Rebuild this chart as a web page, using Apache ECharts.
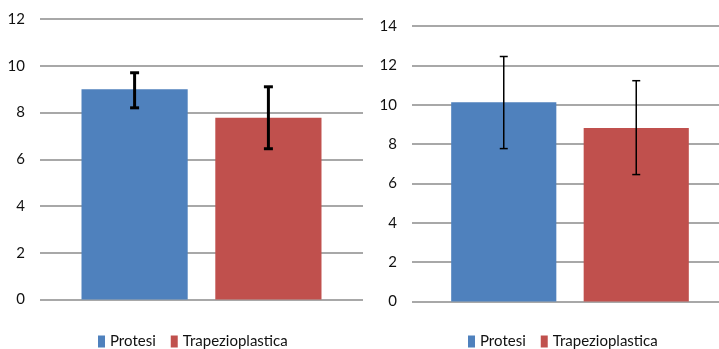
<!DOCTYPE html>
<html>
<head>
<meta charset="utf-8">
<script src="https://cdn.jsdelivr.net/npm/echarts@6/dist/echarts.min.js"></script>
<style>html,body{margin:0;padding:0;background:#fff;overflow:hidden}#c{width:728px;height:349px}</style>
</head>
<body>
<div id="c"></div>
<script>
const seriesNames = ['Protesi', 'Trapezioplastica'];
const colors = ['#4f81bd', '#c0504d'];
// left chart
const leftMeans = [9.0, 7.78];
const leftLow = [8.2, 6.45];
const leftHigh = [9.7, 9.1];
const leftTicks = [0, 2, 4, 6, 8, 10, 12];
// right chart
const rightMeans = [10.12, 8.82];
const rightLow = [7.77, 6.45];
const rightHigh = [12.45, 11.22];
const rightTicks = [0, 2, 4, 6, 8, 10, 12, 14];

const catGaps = [0.257, 0.248];
const barGapRatio = 0.26;

const chart = echarts.init(document.getElementById('c'));
const font = 'Lato, "Open Sans", sans-serif';

function errSeries(gi, si, low, high, lw, cap) {
  return {
    type: 'custom', xAxisIndex: gi, yAxisIndex: gi, z: 10, silent: true,
    data: [[0, low[si], high[si]]],
    renderItem: function (params, api) {
      const band = api.size([1, 0])[0];
      const group = band * (1 - catGaps[gi]);
      const bw = group / (2 + barGapRatio);
      const off = (bw + bw * barGapRatio) / 2 * (si === 0 ? -1 : 1);
      const p1 = api.coord([api.value(0), api.value(1)]);
      const p2 = api.coord([api.value(0), api.value(2)]);
      const x = p1[0] + off;
      const st = { stroke: '#000', lineWidth: lw };
      return { type: 'group', children: [
        { type: 'line', shape: { x1: x, y1: p1[1], x2: x, y2: p2[1] }, style: st },
        { type: 'line', shape: { x1: x - cap, y1: p1[1], x2: x + cap, y2: p1[1] }, style: st },
        { type: 'line', shape: { x1: x - cap, y1: p2[1], x2: x + cap, y2: p2[1] }, style: st }
      ]};
    }
  };
}

function yAx(gi, ticks) {
  return {
    type: 'value', gridIndex: gi, min: ticks[0], max: ticks[ticks.length - 1], interval: 2,
    axisLine: { show: false }, axisTick: { show: false },
    axisLabel: { margin: 15, color: '#111', fontSize: 15, fontFamily: font },
    splitLine: { lineStyle: { color: '#a8a8a8', width: 2 } }
  };
}
function xAx(gi) {
  return {
    type: 'category', gridIndex: gi, data: [''],
    axisLine: { show: false }, axisTick: { show: false }, axisLabel: { show: false }
  };
}
function bars(gi, means) {
  return seriesNames.map((n, si) => ({
    type: 'bar', name: n, xAxisIndex: gi, yAxisIndex: gi,
    data: [means[si]], itemStyle: { color: colors[si] },
    barGap: (barGapRatio * 100) + '%', barCategoryGap: (catGaps[gi] * 100) + '%'
  }));
}

chart.setOption({
  animation: false,
  grid: [
    { left: 40, right: 365, top: 19, bottom: 49.5 },
    { left: 412, right: 0, top: 26, bottom: 47.5 }
  ],
  legend: [
    { data: seriesNames, left: 93, top: 329, itemWidth: 7, itemHeight: 12, itemGap: 15,
      icon: 'rect', textStyle: { fontSize: 15, fontFamily: font, color: '#111' } },
    { data: seriesNames, left: 463, top: 329, itemWidth: 7, itemHeight: 12, itemGap: 15,
      icon: 'rect', textStyle: { fontSize: 15, fontFamily: font, color: '#111' } }
  ],
  xAxis: [xAx(0), xAx(1)],
  yAxis: [yAx(0, leftTicks), yAx(1, rightTicks)],
  series: [
    ...bars(0, leftMeans),
    ...bars(1, rightMeans),
    errSeries(0, 0, leftLow, leftHigh, 3, 4.5),
    errSeries(0, 1, leftLow, leftHigh, 3, 4.5),
    errSeries(1, 0, rightLow, rightHigh, 1.5, 4),
    errSeries(1, 1, rightLow, rightHigh, 1.5, 4)
  ]
});
</script>
</body>
</html>
